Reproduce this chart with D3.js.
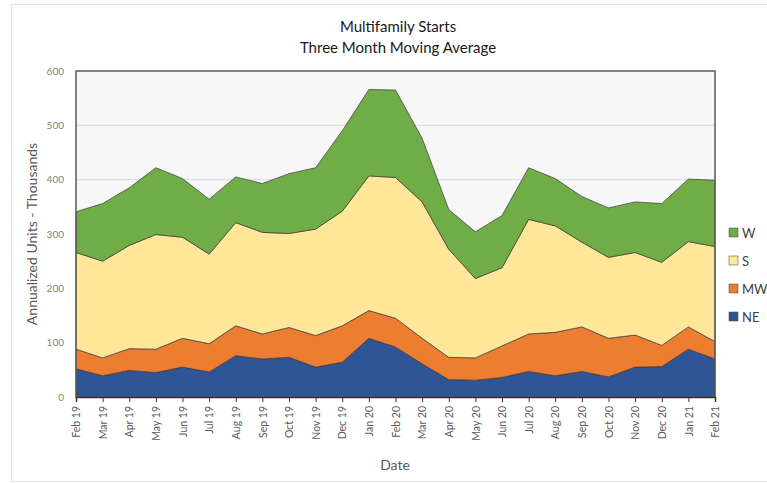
<!DOCTYPE html>
<html>
<head>
<meta charset="utf-8">
<script src="https://cdn.jsdelivr.net/npm/d3@7"></script>
<style>
  body { margin: 0; background: #fff; }
  svg { display: block; font-family: Lato, "Open Sans", sans-serif; }
</style>
</head>
<body>
<svg id="chart" width="767" height="483"></svg>
<script>
const months = ["Feb 19", "Mar 19", "Apr 19", "May 19", "Jun 19", "Jul 19", "Aug 19",
  "Sep 19", "Oct 19", "Nov 19", "Dec 19", "Jan 20", "Feb 20", "Mar 20", "Apr 20",
  "May 20", "Jun 20", "Jul 20", "Aug 20", "Sep 20", "Oct 20", "Nov 20", "Dec 20",
  "Jan 21", "Feb 21"];

// three month moving average, thousands of units
const ne = [52, 39, 49, 45, 55, 46, 76, 70, 73, 55, 64, 108, 92, 61, 32, 31, 36, 47, 39, 47, 37, 55, 56, 88, 70];
const mw = [36, 33, 40, 43, 53, 52, 55, 46, 55, 58, 67, 51, 53, 47, 41, 41, 58, 69, 80, 82, 71, 59, 39, 41, 32];
const s = [178, 178, 190, 211, 186, 165, 190, 187, 173, 196, 211, 248, 259, 251, 199, 146, 144, 211, 196, 156, 149, 152, 153, 157, 175];
const w = [75, 106, 106, 123, 108, 101, 84, 90, 110, 113, 148, 159, 161, 117, 73, 86, 96, 95, 87, 84, 91, 93, 108, 115, 122];

const yTicks = [0, 100, 200, 300, 400, 500, 600];
const keys = ["NE", "MW", "S", "W"];
const colors = { NE: "#2f5597", MW: "#ed7d31", S: "#ffe699", W: "#70ad47" };

const rows = months.map((m, i) => ({ month: m, NE: ne[i], MW: mw[i], S: s[i], W: w[i] }));

const svg = d3.select("#chart");
const margin = { left: 76, right: 52, top: 71, bottom: 86 };
const width = 767, height = 483;

// outer frame
svg.append("rect")
  .attr("x", 11.5).attr("y", 4.5)
  .attr("width", 770).attr("height", 477)
  .attr("fill", "#fff")
  .attr("stroke", "#e3e3e3");

const x = d3.scalePoint()
  .domain(months)
  .range([margin.left, width - margin.right]);

const y = d3.scaleLinear()
  .domain([0, 600])
  .range([height - margin.bottom, margin.top]);

// plot background
svg.append("rect")
  .attr("x", x.range()[0]).attr("y", y(600))
  .attr("width", x.range()[1] - x.range()[0])
  .attr("height", y(0) - y(600))
  .attr("fill", "#f7f7f7");

// gridlines
svg.append("g")
  .selectAll("line")
  .data(yTicks.filter(d => d > 0 && d < 600))
  .join("line")
  .attr("x1", x.range()[0]).attr("x2", x.range()[1])
  .attr("y1", d => y(d)).attr("y2", d => y(d))
  .attr("stroke", "#d9d9d9");

const stack = d3.stack().keys(keys);
const series = stack(rows);

const area = d3.area()
  .x(d => x(d.data.month))
  .y0(d => y(d[0]))
  .y1(d => y(d[1]));

svg.append("g")
  .selectAll("path")
  .data(series)
  .join("path")
  .attr("d", area)
  .attr("fill", d => colors[d.key])
  .attr("stroke", "#3a3a3a")
  .attr("stroke-width", 0.7)
  .attr("stroke-linejoin", "round");

// plot border
svg.append("rect")
  .attr("x", x.range()[0]).attr("y", y(600))
  .attr("width", x.range()[1] - x.range()[0])
  .attr("height", y(0) - y(600))
  .attr("fill", "none")
  .attr("stroke", "#595959")
  .attr("stroke-width", 1.5);

// y axis
const yAxis = svg.append("g")
  .attr("transform", `translate(${x.range()[0]},0)`)
  .call(d3.axisLeft(y).tickValues(yTicks).tickSize(0).tickPadding(12));
yAxis.select(".domain").remove();
yAxis.selectAll("text")
  .attr("fill", "#7f7f7f")
  .style("font-size", "10px")
  .style("font-family", "Lato, sans-serif");

// x axis
const xAxis = svg.append("g")
  .attr("transform", `translate(0,${y(0)})`)
  .call(d3.axisBottom(x).tickSize(5).tickPadding(4));
xAxis.select(".domain").attr("stroke", "#333").attr("stroke-width", 1.5);
xAxis.selectAll(".tick line").attr("stroke", "#333");
xAxis.selectAll("text")
  .attr("fill", "#595959")
  .style("font-size", "10.5px")
  .style("font-family", "Lato, sans-serif")
  .attr("transform", "rotate(-90)")
  .attr("text-anchor", "end")
  .attr("x", -9)
  .attr("y", 0)
  .attr("dy", "0.35em");

// titles
svg.append("text")
  .attr("x", 398).attr("y", 32)
  .attr("text-anchor", "middle")
  .style("font-size", "15px")
  .attr("fill", "#1a1a1a")
  .text("Multifamily Starts");
svg.append("text")
  .attr("x", 398).attr("y", 53)
  .attr("text-anchor", "middle")
  .style("font-size", "15px")
  .attr("fill", "#1a1a1a")
  .text("Three Month Moving Average");

svg.append("text")
  .attr("transform", `translate(37,${(y(0) + y(600)) / 2}) rotate(-90)`)
  .attr("text-anchor", "middle")
  .style("font-size", "14px")
  .attr("fill", "#595959")
  .text("Annualized Units - Thousands");

svg.append("text")
  .attr("x", 395).attr("y", 470)
  .attr("text-anchor", "middle")
  .style("font-size", "14px")
  .attr("fill", "#595959")
  .text("Date");

// legend, top to bottom W, S, MW, NE
const legend = svg.append("g")
  .selectAll("g")
  .data(keys.slice().reverse())
  .join("g")
  .attr("transform", (d, i) => `translate(729,${233 + i * 28})`);
legend.append("rect")
  .attr("x", 0).attr("y", -5)
  .attr("width", 9).attr("height", 9)
  .attr("fill", d => colors[d])
  .attr("stroke", "#444")
  .attr("stroke-width", 0.5);
legend.append("text")
  .attr("x", 13).attr("y", 0)
  .attr("dy", "0.35em")
  .style("font-size", "13px")
  .attr("fill", "#404040")
  .text(d => d);
</script>
</body>
</html>
